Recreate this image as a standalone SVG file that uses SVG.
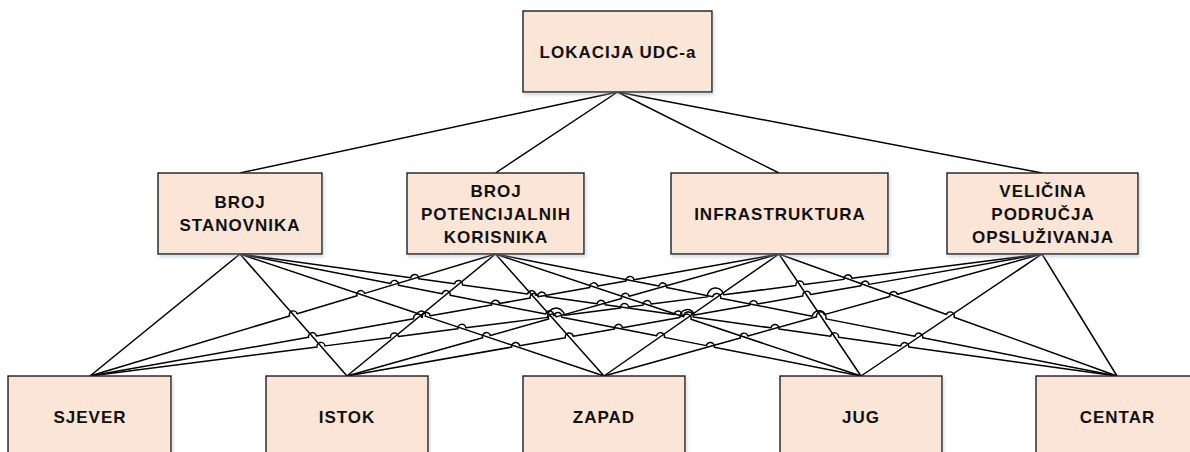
<svg xmlns="http://www.w3.org/2000/svg" width="1190" height="452" viewBox="0 0 1190 452">
<defs>
<filter id="sh" x="-10%" y="-10%" width="130%" height="140%">
<feDropShadow dx="1.5" dy="2.5" stdDeviation="1.8" flood-color="#9fb4cf" flood-opacity="0.45"/>
</filter>
<style>
.box{fill:#FBE5D6;stroke:#1a1a1a;stroke-width:1.4;filter:url(#sh)}
.t{font-family:"Liberation Sans",Arial,sans-serif;font-weight:bold;font-size:17px;letter-spacing:1px;fill:#111;text-anchor:middle}
.c{fill:none;stroke:#000;stroke-width:1.5;stroke-linejoin:round}
</style>
</defs>
<rect width="1190" height="452" fill="#fff"/>
<g id="connectors">
<path class="c" d="M617.5 92L240 173M617.5 92L495.5 173M617.5 92L779 173M617.5 92L1042 173"/>
<path class="c" d="M240 254L90 376M240 254L347 376M495.5 254L347 376M495.5 254L604 376M779 254L604 376M779 254L861 376M1042 254L861 376M1042 254L1117 376"/>
<path class="c" d="M90 376L289.51 315.97A4 4 0 0 1 297.17 313.67L357.03 295.66A4 4 0 0 1 364.69 293.36L495.5 254"/>
<path class="c" d="M240 254L417.68 313.55A4 4 0 0 1 425.26 316.09L604 376"/>
<path class="c" d="M240 254L390.65 283.6A4 4 0 0 1 398.5 285.14L442.27 293.74A4 4 0 0 1 450.12 295.28L545.67 314.05A4 4 0 0 1 553.52 315.59L553.95 315.68A4 4 0 0 1 561.8 317.22L656.58 335.84A4 4 0 0 1 664.43 337.38L706.38 345.62A4 4 0 0 1 714.23 347.16L861 376"/>
<path class="c" d="M240 254L410.76 277.75A4 4 0 0 1 418.68 278.85L454.54 283.85A4 4 0 0 1 462.46 284.95L527.62 294.01A4 4 0 0 1 535.54 295.11L537.9 295.44A4 4 0 0 1 545.82 296.54L597.16 303.69A4 4 0 0 1 605.08 304.79L674.11 314.39A4 4 0 0 1 682.03 315.49L683.47 315.69A5 5 0 0 1 693.3 317.06L770.91 327.86A4 4 0 0 1 778.83 328.96L830.64 336.16A4 4 0 0 1 838.56 337.26L900.83 345.93A4 4 0 0 1 908.75 347.03L1117 376"/>
<path class="c" d="M90 376L308.51 337.31A4 4 0 0 1 316.39 335.91L413.67 318.69A4 4 0 0 1 421.55 317.29L422.38 317.15A4 4 0 0 1 430.26 315.75L491.57 304.9A4 4 0 0 1 499.45 303.5L530.13 298.07A4 4 0 0 1 538.01 296.67L589.83 287.5A4 4 0 0 1 597.71 286.1L626.01 281.09A4 4 0 0 1 633.89 279.69L779 254"/>
<path class="c" d="M347 376L482.63 337.7A4 4 0 0 1 490.33 335.52L548.56 319.08A4 4 0 0 1 556.26 316.9L621.58 298.46A4 4 0 0 1 629.28 296.28L779 254"/>
<path class="c" d="M90 376L317.06 346.9A4 4 0 0 1 325 345.88L390.53 337.49A4 4 0 0 1 398.47 336.47L457.86 328.86A4 4 0 0 1 465.8 327.84L547.44 317.38A8.6 8.6 0 0 1 564.48 315.2L620.59 308.01A4 4 0 0 1 628.53 306.99L643.14 305.12A4 4 0 0 1 651.08 304.1L707.39 296.88A8.25 8.25 0 0 1 723.74 294.79L795.89 285.54A4 4 0 0 1 803.83 284.52L843.94 279.38A4 4 0 0 1 851.88 278.36L1042 254"/>
<path class="c" d="M347 376L511.72 347.08A4 4 0 0 1 519.6 345.7L565.36 337.67A4 4 0 0 1 573.24 336.29L614.51 329.04A4 4 0 0 1 622.39 327.66L679.91 317.56A7.4 7.4 0 0 1 694.43 315.01L749.55 305.33A4 4 0 0 1 757.43 303.95L802.82 295.98A4 4 0 0 1 810.7 294.6L861.11 285.75A4 4 0 0 1 868.99 284.37L1042 254"/>
<path class="c" d="M495.5 254L683.42 316.72A4 4 0 0 1 691 319.26L861 376"/>
<path class="c" d="M495.5 254L658.83 286.06A4 4 0 0 1 666.68 287.6L712.79 296.65A4 4 0 0 1 720.64 298.19L812.16 316.16A7.06 7.06 0 0 1 826.01 318.88L914.82 336.31A4 4 0 0 1 922.67 337.85L1117 376"/>
<path class="c" d="M604 376L740.25 338.05A4 4 0 0 1 747.95 335.91L816.62 316.77A4 4 0 0 1 824.32 314.63L889.7 296.42A4 4 0 0 1 897.4 294.28L1042 254"/>
<path class="c" d="M779 254L946.52 314.46A4 4 0 0 1 954.04 317.18L1117 376"/>
</g>
<g id="n-top"><rect class="box" x="523" y="11" width="189" height="81"/><text class="t" x="618" y="58">LOKACIJA UDC-a</text></g>
<g id="n-stanovnika"><rect class="box" x="158" y="173" width="164" height="81"/><text class="t" x="240" y="208">BROJ</text><text class="t" x="240" y="231">STANOVNIKA</text></g>
<g id="n-korisnika"><rect class="box" x="407" y="173" width="177" height="81"/><text class="t" x="496" y="196.5">BROJ</text><text class="t" x="496" y="219.5">POTENCIJALNIH</text><text class="t" x="496" y="242.5">KORISNIKA</text></g>
<g id="n-infra"><rect class="box" x="671" y="173" width="217" height="81"/><text class="t" x="780" y="219.5">INFRASTRUKTURA</text></g>
<g id="n-velicina"><rect class="box" x="947" y="173" width="191" height="81"/><text class="t" x="1043" y="196.5">VELIČINA</text><text class="t" x="1043" y="219.5">PODRUČJA</text><text class="t" x="1043" y="242.5">OPSLUŽIVANJA</text></g>
<g id="n-sjever"><rect class="box" x="8" y="376" width="163" height="82"/><text class="t" x="90" y="423">SJEVER</text></g>
<g id="n-istok"><rect class="box" x="266" y="376" width="162" height="82"/><text class="t" x="347" y="423">ISTOK</text></g>
<g id="n-zapad"><rect class="box" x="523" y="376" width="162" height="82"/><text class="t" x="604" y="423">ZAPAD</text></g>
<g id="n-jug"><rect class="box" x="780" y="376" width="162" height="82"/><text class="t" x="861" y="423">JUG</text></g>
<g id="n-centar"><rect class="box" x="1036" y="376" width="163" height="82"/><text class="t" x="1117.5" y="423">CENTAR</text></g>
</svg>
